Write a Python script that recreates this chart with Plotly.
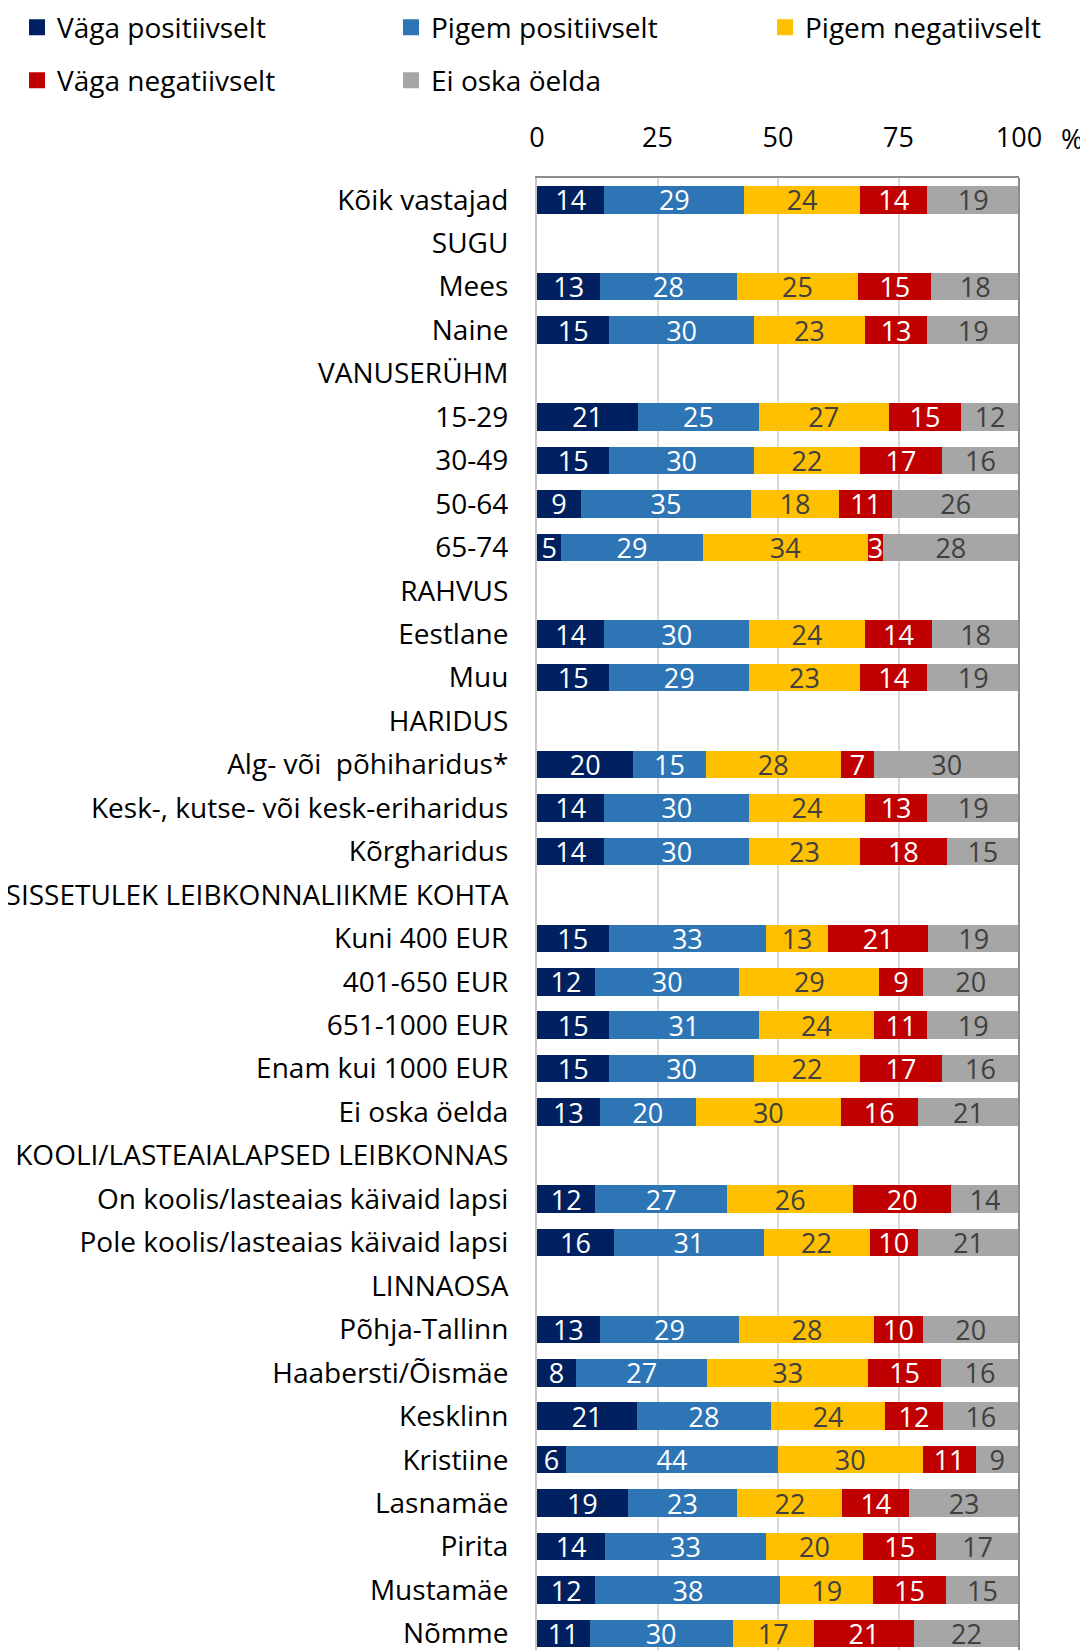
import plotly.graph_objects as go

categories = [
    "Kõik vastajad", "SUGU", "Mees", "Naine", "VANUSERÜHM", "15-29", "30-49", "50-64", "65-74",
    "RAHVUS", "Eestlane", "Muu", "HARIDUS", "Alg- või  põhiharidus*",
    "Kesk-, kutse- või kesk-eriharidus", "Kõrgharidus", "SISSETULEK LEIBKONNALIIKME KOHTA",
    "Kuni 400 EUR", "401-650 EUR", "651-1000 EUR", "Enam kui 1000 EUR", "Ei oska öelda",
    "KOOLI/LASTEAIALAPSED LEIBKONNAS", "On koolis/lasteaias käivaid lapsi",
    "Pole koolis/lasteaias käivaid lapsi", "LINNAOSA", "Põhja-Tallinn", "Haabersti/Õismäe",
    "Kesklinn", "Kristiine", "Lasnamäe", "Pirita", "Mustamäe", "Nõmme",
]

vaga_pos = [14, None, 13, 15, None, 21, 15, 9, 5, None, 14, 15, None, 20, 14, 14, None,
            15, 12, 15, 15, 13, None, 12, 16, None, 13, 8, 21, 6, 19, 14, 12, 11]
pigem_pos = [29, None, 28, 30, None, 25, 30, 35, 29, None, 30, 29, None, 15, 30, 30, None,
             33, 30, 31, 30, 20, None, 27, 31, None, 29, 27, 28, 44, 23, 33, 38, 30]
pigem_neg = [24, None, 25, 23, None, 27, 22, 18, 34, None, 24, 23, None, 28, 24, 23, None,
             13, 29, 24, 22, 30, None, 26, 22, None, 28, 33, 24, 30, 22, 20, 19, 17]
vaga_neg = [14, None, 15, 13, None, 15, 17, 11, 3, None, 14, 14, None, 7, 13, 18, None,
            21, 9, 11, 17, 16, None, 20, 10, None, 10, 15, 12, 11, 14, 15, 15, 21]
ei_oska = [19, None, 18, 19, None, 12, 16, 26, 28, None, 18, 19, None, 30, 19, 15, None,
           19, 20, 19, 16, 21, None, 14, 21, None, 20, 16, 16, 9, 23, 17, 15, 22]

series_names = ["Väga positiivselt", "Pigem positiivselt", "Pigem negatiivselt",
                "Väga negatiivselt", "Ei oska öelda"]
series_values = [vaga_pos, pigem_pos, pigem_neg, vaga_neg, ei_oska]
colors = ["#002060", "#2E75B6", "#FFC000", "#C00000", "#A6A6A6"]
text_colors = ["#FFFFFF", "#FFFFFF", "#404040", "#FFFFFF", "#404040"]
x_ticks = [0, 25, 50, 75, 100]

FONT = "Open Sans"
FS_LABEL = 28   # category labels and legend
FS_NUM = 27     # numbers (bar labels, axis ticks)

# the page body has an 8px margin, so the figure starts at (8, 8)
W, H = 1080, 1642
fig = go.Figure()
for name, vals, col, tcol in zip(series_names, series_values, colors, text_colors):
    fig.add_trace(go.Bar(
        y=categories, x=vals, orientation="h", name=name,
        marker=dict(color=col, line=dict(width=0)),
        text=["" if v is None else str(v) for v in vals],
        textposition="inside", insidetextanchor="middle", textangle=0,
        textfont=dict(color=tcol, size=FS_NUM, family=FONT),
        showlegend=False, hoverinfo="x+y+name",
    ))

# legend: one legend box per entry, laid out in 3 columns x 2 rows
legend_keys = ["legend", "legend2", "legend3", "legend4", "legend5"]
legend_pos = [(21, 19.5), (395, 19.5), (769, 19.5), (21, 72.5), (395, 72.5)]
for name, col, key in zip(series_names, colors, legend_keys):
    fig.add_trace(go.Scatter(
        x=[None], y=[None], mode="markers", name=name,
        marker=dict(symbol="square", size=17, color=col),
        legend=key, showlegend=True,
    ))

legend_layout = {}
for key, (px, py) in zip(legend_keys, legend_pos):
    legend_layout[key] = dict(
        orientation="h", xref="container", yref="container", xanchor="left", yanchor="middle",
        x=(px - 12) / W, y=1 - py / H,
        font=dict(family=FONT, size=FS_LABEL, color="#000000"),
        itemsizing="trace", bgcolor="rgba(0,0,0,0)", borderwidth=0,
    )

ML, MR, MT = 529, 69, 170
PW, PH = W - ML - MR, H - MT

fig.update_layout(
    width=W, height=H,
    margin=dict(l=ML, r=MR, t=MT, b=0, autoexpand=False),
    paper_bgcolor="white", plot_bgcolor="white",
    barmode="stack", barnorm="percent", bargap=0.365,
    uniformtext=dict(minsize=FS_NUM, mode="show"),
    font=dict(family=FONT, size=FS_LABEL, color="#000000"),
    **legend_layout,
    xaxis=dict(
        range=[0, 100], side="top", tickvals=x_ticks, ticktext=[str(t) for t in x_ticks],
        showgrid=True, gridcolor="#D9D9D9", gridwidth=1.5, zeroline=False,
        showline=True, linecolor="#8C8C8C", linewidth=2,
        ticks="", ticklabelstandoff=18, tickfont=dict(size=FS_NUM, color="#000000"),
        fixedrange=True,
    ),
    yaxis=dict(
        categoryorder="array", categoryarray=categories, type="category",
        range=[33.38, -0.5], autorange=False, showgrid=False, zeroline=False,
        showline=True, linecolor="#C8C8C8", linewidth=2,
        ticks="", ticklabelstandoff=21, tickfont=dict(size=FS_LABEL, color="#000000"),
        fixedrange=True,
    ),
    shapes=[dict(type="line", xref="x domain", yref="y domain", x0=1, x1=1, y0=0, y1=1,
                 line=dict(color="#8C8C8C", width=2))],
    annotations=[dict(text="%", xref="paper", yref="paper", x=(1064 - ML) / PW,
                      y=1 + (MT - 131) / PH, showarrow=False, xanchor="center",
                      yanchor="middle", font=dict(size=FS_NUM, color="#000000"))],
)

fig.write_html("out.html")
